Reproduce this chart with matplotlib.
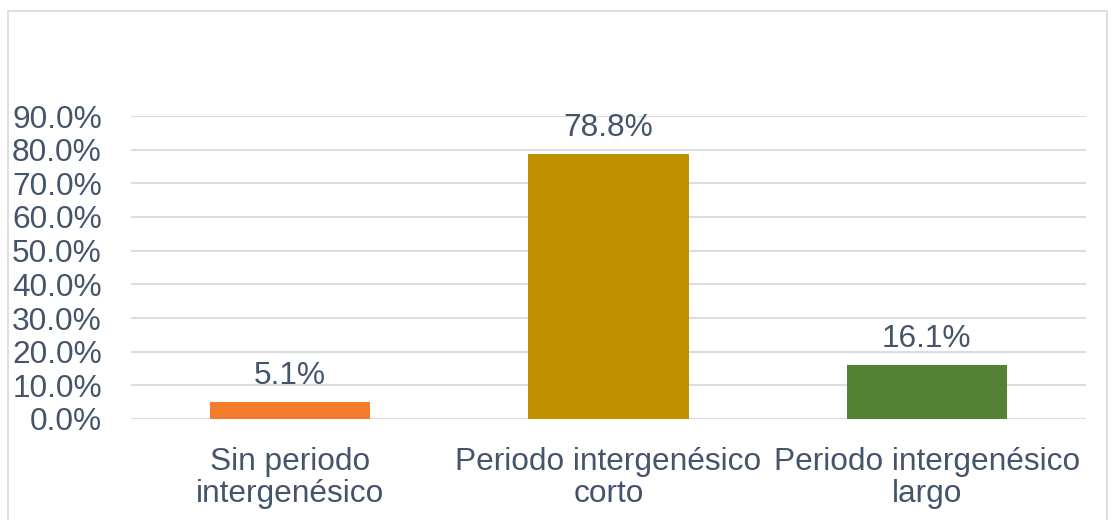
import matplotlib
matplotlib.use("Agg")
import matplotlib.pyplot as plt
from matplotlib.patches import Rectangle

categories = ["Sin periodo\nintergenésico", "Periodo intergenésico\ncorto", "Periodo intergenésico\nlargo"]
values = [5.1, 78.8, 16.1]
value_labels = ["5.1%", "78.8%", "16.1%"]
colors = ["#F27B2C", "#BF9000", "#548235"]
yticks = [0, 10, 20, 30, 40, 50, 60, 70, 80, 90]

plt.rcParams['font.family'] = ['Liberation Sans', 'DejaVu Sans']
txt = "#44546A"

W, H = 1113, 520
fig = plt.figure(figsize=(W/100, H/100), dpi=100)
fig.patches.append(Rectangle((8/W, -0.05), (1107-8)/W, 1.05 - 11/H, transform=fig.transFigure,
                             fill=False, edgecolor="#D9D9D9", lw=1.2))

ax = fig.add_axes([131/W, 1-419/H, (1086-131)/W, (419-116)/H])
x = range(len(categories))
ax.bar(x, values, width=0.503, color=colors, zorder=3)
ax.set_xlim(-0.5, 2.5)
ax.set_ylim(0, 90)
ax.set_yticks(yticks)
ax.set_yticklabels([f"{v:.1f}%" for v in yticks], fontsize=22.8, color=txt)
ax.set_xticks(list(x))
ax.set_xticklabels(categories, fontsize=22.8, color=txt, linespacing=1.1)
ax.tick_params(axis='both', length=0)
ax.tick_params(axis='y', pad=21)
ax.tick_params(axis='x', pad=20)
ax.grid(axis='y', color="#D9DEE4", lw=1.5, zorder=0)
for s in ax.spines.values():
    s.set_visible(False)
for xi, v, lab in zip(x, values, value_labels):
    ax.annotate(lab, (xi, v), xytext=(0, 8), textcoords="offset points",
                ha="center", va="bottom", fontsize=22.8, color=txt)

fig.savefig("out.png", dpi=100)
